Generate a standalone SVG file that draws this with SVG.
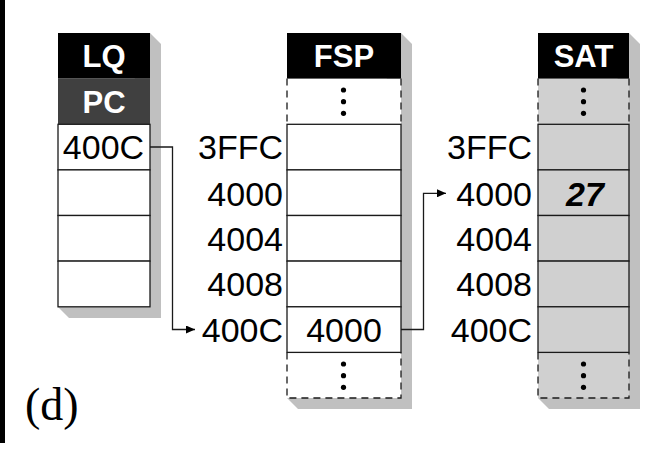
<svg xmlns="http://www.w3.org/2000/svg" width="648" height="466" viewBox="0 0 648 466">
<defs>
<style>
.cell{fill:#fff;stroke:#1a1a1a;stroke-width:1.3}
.gcell{fill:#d0d0d0;stroke:#1a1a1a;stroke-width:1.3}
.shadow{fill:#c0c0c0}
.hdr{fill:#000}
.hdr2{fill:#404040}
.ht{font-family:"Liberation Sans",Arial,sans-serif;font-weight:bold;font-size:31px;fill:#fff;text-anchor:middle}
.t{font-family:"Liberation Sans",Arial,sans-serif;font-size:34px;fill:#000}
.lab{text-anchor:end}
.mid{text-anchor:middle}
.dash{stroke:#1a1a1a;stroke-width:1.3;stroke-dasharray:7 5;fill:none}
.conn{stroke:#1a1a1a;stroke-width:1.3;fill:none}
.dot{fill:#000}
</style>
<marker id="arr" markerWidth="10" markerHeight="8" refX="9" refY="4" orient="auto" markerUnits="userSpaceOnUse">
<polygon points="0,0 9,4 0,8" fill="#000"/>
</marker>
</defs>
<rect x="0" y="0" width="5" height="443" fill="#000"/>

<g id="lq">
<polygon class="shadow" points="150,33 161,44 161,318 69,318 58,307"/>
<rect class="hdr" x="58" y="33" width="92" height="45.6"/>
<rect class="hdr2" x="58" y="78.6" width="92" height="45.7"/>
<rect class="cell" x="58" y="124.3" width="92" height="45.6"/>
<rect class="cell" x="58" y="169.9" width="92" height="45.6"/>
<rect class="cell" x="58" y="215.5" width="92" height="45.6"/>
<rect class="cell" x="58" y="261.1" width="92" height="45.7"/>
<text class="ht" x="104" y="67">LQ</text>
<text class="ht" x="104" y="112.5">PC</text>
<text class="t mid" x="103.5" y="159">400C</text>
</g>

<g id="fsp">
<polygon class="shadow" points="401,33 412,44 412,409 298,409 287,398"/>
<rect x="287" y="78.6" width="114" height="319.4" fill="#fff"/>
<rect class="hdr" x="287" y="33" width="114" height="45.6"/>
<line class="dash" x1="287" y1="78.6" x2="287" y2="124.3"/>
<line class="dash" x1="401" y1="78.6" x2="401" y2="124.3"/>
<rect class="cell" x="287" y="124.3" width="114" height="45.6"/>
<rect class="cell" x="287" y="169.9" width="114" height="45.6"/>
<rect class="cell" x="287" y="215.5" width="114" height="45.6"/>
<rect class="cell" x="287" y="261.1" width="114" height="45.7"/>
<rect class="cell" x="287" y="306.8" width="114" height="45.6"/>
<path class="dash" d="M287,352.4 V398 H401 V352.4"/>
<text class="ht" x="344" y="67">FSP</text>
<circle class="dot" cx="343.5" cy="90" r="2.6"/>
<circle class="dot" cx="343.5" cy="101.7" r="2.6"/>
<circle class="dot" cx="343.5" cy="113.3" r="2.6"/>
<text class="t mid" x="344" y="342">4000</text>
<circle class="dot" cx="343.5" cy="364" r="2.6"/>
<circle class="dot" cx="343.5" cy="375.7" r="2.6"/>
<circle class="dot" cx="343.5" cy="387.3" r="2.6"/>
</g>

<g id="fsp-labels">
<text class="t lab" x="283" y="159">3FFC</text>
<text class="t lab" x="283" y="205.5">4000</text>
<text class="t lab" x="283" y="250.5">4004</text>
<text class="t lab" x="283" y="296">4008</text>
<text class="t lab" x="283" y="342">400C</text>
</g>

<g id="sat">
<polygon class="shadow" points="629,33 640,44 640,409 549,409 538,398"/>
<rect x="538" y="78.6" width="91" height="319.4" fill="#d0d0d0"/>
<rect class="hdr" x="538" y="33" width="91" height="45.6"/>
<line class="dash" x1="538" y1="78.6" x2="538" y2="124.3"/>
<line class="dash" x1="629" y1="78.6" x2="629" y2="124.3"/>
<rect class="gcell" x="538" y="124.3" width="91" height="45.6"/>
<rect class="gcell" x="538" y="169.9" width="91" height="45.6"/>
<rect class="gcell" x="538" y="215.5" width="91" height="45.6"/>
<rect class="gcell" x="538" y="261.1" width="91" height="45.7"/>
<rect class="gcell" x="538" y="306.8" width="91" height="45.6"/>
<path class="dash" d="M538,352.4 V398 H629 V352.4"/>
<text class="ht" x="583.5" y="67">SAT</text>
<circle class="dot" cx="583.5" cy="90" r="2.6"/>
<circle class="dot" cx="583.5" cy="101.7" r="2.6"/>
<circle class="dot" cx="583.5" cy="113.3" r="2.6"/>
<text class="t mid" x="585" y="205.5" font-weight="bold" font-style="italic">27</text>
<circle class="dot" cx="583.5" cy="364" r="2.6"/>
<circle class="dot" cx="583.5" cy="375.7" r="2.6"/>
<circle class="dot" cx="583.5" cy="387.3" r="2.6"/>
</g>

<g id="sat-labels">
<text class="t lab" x="532" y="159">3FFC</text>
<text class="t lab" x="532" y="205.5">4000</text>
<text class="t lab" x="532" y="250.5">4004</text>
<text class="t lab" x="532" y="296">4008</text>
<text class="t lab" x="532" y="342">400C</text>
</g>

<g id="connectors">
<path class="conn" d="M150,147 H172.5 V329.5 H195" marker-end="url(#arr)"/>
<path class="conn" d="M401,329.5 H423.5 V193.3 H446" marker-end="url(#arr)"/>
</g>

<text x="25" y="420" font-family="'Liberation Serif','Times New Roman',serif" font-size="46" fill="#000">(d)</text>
</svg>
